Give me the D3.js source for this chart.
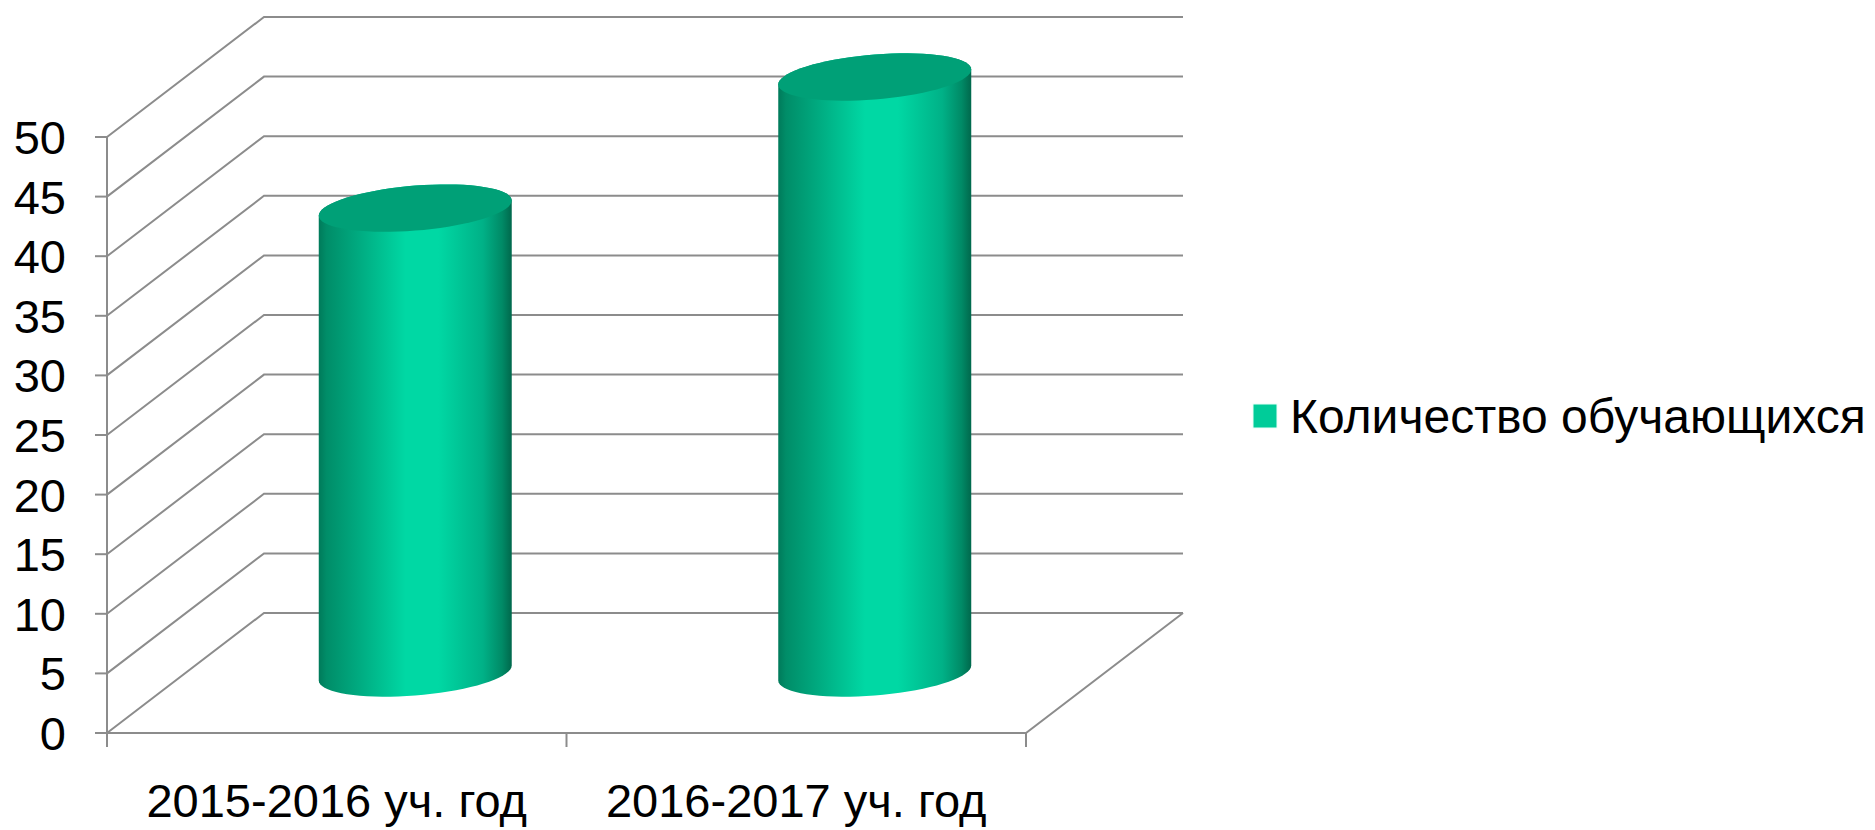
<!DOCTYPE html>
<html>
<head>
<meta charset="utf-8">
<script src="https://cdn.jsdelivr.net/npm/d3@7"></script>
<style>
  html, body { margin: 0; padding: 0; background: #ffffff; }
  svg { display: block; }
  text { font-family: "Liberation Sans", Arial, sans-serif; fill: #000; }
</style>
</head>
<body>
<svg id="chart" width="1875" height="830"></svg>
<script>
// ---- data ----
const categories = ["2015-2016 уч. год", "2016-2017 уч. год"];
const seriesName = "Количество обучающихся";
const values = [39, 50];
const yTicks = [0, 5, 10, 15, 20, 25, 30, 35, 40, 45, 50];

// ---- layout ----
const svg = d3.select("#chart");
const plotLeft = 107, plotRight = 1026, plotBottom = 733, plotTop = 137;
const depthX = 157, depthY = -120;
const gridColor = "#8c8c8c";

const y = d3.scaleLinear().domain([0, 50]).range([plotBottom, plotTop]);
const x = d3.scaleBand().domain(categories).range([plotLeft, plotRight]).padding(0);

// gradients
const defs = svg.append("defs");
const g1 = defs.append("linearGradient").attr("id", "cylSide")
  .attr("x1", "0").attr("x2", "1").attr("y1", "0").attr("y2", "0");
[[0, "#007a5a"], [0.04, "#008d68"], [0.2, "#00a97f"], [0.45, "#00d8a4"], [0.62, "#00d8a4"],
 [0.85, "#00b187"], [0.95, "#008a66"], [1, "#00684c"]].forEach(([o, c]) =>
  g1.append("stop").attr("offset", o).attr("stop-color", c));

// ---- gridlines (3D walls) ----
const grid = svg.append("g").attr("fill", "none").attr("stroke", gridColor).attr("stroke-width", 2);
yTicks.forEach(v => {
  const yy = y(v);
  grid.append("path").attr("d",
    `M${plotLeft},${yy} L${plotLeft + depthX},${yy + depthY} L${plotRight + depthX},${yy + depthY}`);
});
// floor
grid.append("path").attr("d",
  `M${plotLeft},${plotBottom} L${plotRight},${plotBottom} L${plotRight + depthX},${plotBottom + depthY}`);

// axis line and ticks
const axis = svg.append("g").attr("stroke", gridColor).attr("stroke-width", 2);
axis.append("line").attr("x1", plotLeft).attr("x2", plotLeft).attr("y1", y(0)).attr("y2", y(50));
yTicks.forEach(v => {
  axis.append("line").attr("x1", plotLeft - 12).attr("x2", plotLeft).attr("y1", y(v)).attr("y2", y(v));
});
const xTickPos = categories.map(c => x(c)).concat([plotRight]);
xTickPos.forEach(px => {
  axis.append("line").attr("x1", px).attr("x2", px).attr("y1", plotBottom).attr("y2", plotBottom + 14);
});

// y labels
svg.append("g").selectAll("text").data(yTicks).join("text")
  .attr("x", 66).attr("y", d => y(d) + 17)
  .attr("text-anchor", "end")
  .attr("font-size", 47)
  .text(d => d);

// x labels
svg.append("g").selectAll("text").data(categories).join("text")
  .attr("x", d => x(d) + x.bandwidth() / 2)
  .attr("y", 817)
  .attr("text-anchor", "middle")
  .attr("font-size", 47)
  .text(d => d);

// ---- cylinders ----
const a = x.bandwidth() * 0.21;   // semi-axis horizontal
const b = 22.5;                   // semi-axis depth
const s = -0.078;                 // shear (perspective tilt)
function ePt(cx, cy, t) {
  return [cx + a * Math.cos(t), cy + b * Math.sin(t) + s * a * Math.cos(t)];
}
function ellipsePath(cx, cy) {
  const pts = d3.range(0, 73).map(i => ePt(cx, cy, i / 72 * 2 * Math.PI));
  return "M" + pts.map(p => p.join(",")).join("L") + "Z";
}
function bodyPath(cx, cyTop, cyBot) {
  const pTopR = ePt(cx, cyTop, 0);
  const bottomArc = d3.range(0, 37).map(i => ePt(cx, cyBot, i / 36 * Math.PI));
  const topArc = d3.range(0, 37).map(i => ePt(cx, cyTop, Math.PI + i / 36 * Math.PI));
  return "M" + pTopR.join(",") + "L" + bottomArc.map(p => p.join(",")).join("L")
    + "L" + topArc.map(p => p.join(",")).join("L") + "Z";
}

const bars = svg.append("g");
categories.forEach((c, i) => {
  const cx = x(c) + x.bandwidth() / 2 + depthX / 2;
  const cyBot = y(0) + depthY / 2;
  const cyTop = y(values[i]) + depthY / 2;
  bars.append("path").attr("d", bodyPath(cx, cyTop, cyBot)).attr("fill", "url(#cylSide)");
  bars.append("path").attr("d", ellipsePath(cx, cyTop)).attr("fill", "#00a077");
});

// ---- legend ----
const lg = svg.append("g");
lg.append("rect").attr("x", 1253).attr("y", 404).attr("width", 24).attr("height", 24)
  .attr("fill", "#00cc99").attr("stroke", "#e8fff8").attr("stroke-width", 1);
lg.append("text").attr("x", 1290).attr("y", 433).attr("font-size", 48).text(seriesName);
</script>
</body>
</html>
